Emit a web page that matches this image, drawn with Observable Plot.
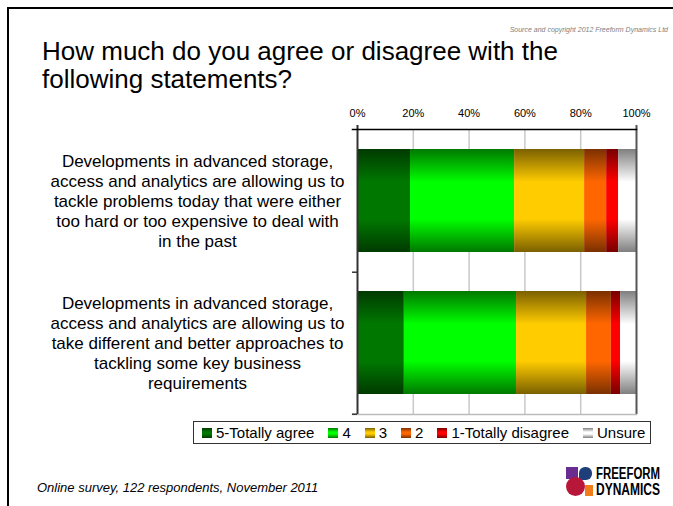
<!DOCTYPE html>
<html>
<head>
<meta charset="utf-8">
<script src="https://cdn.jsdelivr.net/npm/d3@7"></script>
<script src="https://cdn.jsdelivr.net/npm/@observablehq/plot@0.6"></script>
<style>
  html, body { margin: 0; padding: 0; background: #fff; }
  #slide { position: relative; width: 673px; height: 506px; overflow: hidden; font-family: "Liberation Sans", Arial, sans-serif; color: #000; }
  #slide .border { position: absolute; left: 7px; top: 7px; right: -5px; bottom: -5px; border-top: 2px solid #000; border-left: 2px solid #000; }
  #source { position: absolute; right: 5px; top: 26px; font-size: 7px; font-style: italic; color: #808080; }
  #title { position: absolute; left: 42px; top: 37px; font-size: 26px; line-height: 28px; }
  #chart { position: absolute; left: 0; top: 0; }
  #legend { position: absolute; left: 193px; top: 421px; width: 456px; height: 21px; border: 1px solid #333; display: flex; align-items: center; font-size: 15px; white-space: nowrap; padding-left: 8px; box-sizing: content-box; }
  #legend .item { display: flex; align-items: center; flex-shrink: 0; margin-right: 14px; }
  #legend .sw { width: 10px; height: 10px; margin-right: 4px; flex-shrink: 0; }
  #footer { position: absolute; left: 37px; top: 480px; font-size: 13px; font-style: italic; }
  #logo { position: absolute; left: 566px; top: 466px; width: 100px; height: 31px; }
  #logo .t { position: absolute; left: 30px; font-weight: bold; font-size: 16px; line-height: 15px; height: 15px; transform-origin: 0 0; white-space: nowrap; }
</style>
</head>
<body>
<div id="slide">
  <div class="border"></div>
  <div id="source">Source and copyright 2012 Freeform Dynamics Ltd</div>
  <div id="title">How much do you agree or disagree with the<br>following statements?</div>
  <div id="chart"></div>
  <div id="legend"></div>
  <div id="footer">Online survey, 122 respondents, November 2011</div>
  <div id="logo">
    <div style="position:absolute;left:0;top:1px;width:12px;height:12px;background:#6a2c8e"></div>
    <div style="position:absolute;left:13px;top:1px;width:13px;height:13px;background:#1f3f7a;border-radius:6px 6px 6px 0"></div>
    <div style="position:absolute;left:19px;top:19px;width:8px;height:11px;background:#f07c1a"></div>
    <div style="position:absolute;left:0;top:11px;width:19px;height:19px;background:#b8173a;border-radius:50%"></div>
    <div class="t" style="top:0px">FREEFORM</div>
    <div class="t" style="top:16px">DYNAMICS</div>
  </div>
</div>
<script>
// ---- data ----
const statements = [
  "Developments in advanced storage, access and analytics are allowing us to tackle problems today that were either too hard or too expensive to deal with in the past",
  "Developments in advanced storage, access and analytics are allowing us to take different and better approaches to tackling some key business requirements"
];
const statementLines = [
  ["Developments in advanced storage,", "access and analytics are allowing us to", "tackle problems today that were either", "too hard or too expensive to deal with", "in the past"],
  ["Developments in advanced storage,", "access and analytics are allowing us to", "take different and better approaches to", "tackling some key business", "requirements"]
];
const ratings = ["5-Totally agree", "4", "3", "2", "1-Totally disagree", "Unsure"];
const valuesStatement1 = [19.0, 37.3, 25.1, 7.9, 4.3, 6.4];
const valuesStatement2 = [16.8, 40.2, 25.1, 8.9, 3.3, 5.7];
const xTicks = [0, 20, 40, 60, 80, 100];

// ---- palette (gradient dark edge / bright middle) ----
const darkColors = ["#003a00", "#007800", "#7a6000", "#7a3000", "#780000", "#7f7f7f"];
const brightColors = ["#007800", "#00ff00", "#ffcc00", "#ff6600", "#ff0000", "#ffffff"];

const data = [];
[valuesStatement1, valuesStatement2].forEach((vals, si) => {
  vals.forEach((v, ri) => data.push({statement: statements[si], rating: ratings[ri], value: v}));
});

const W = 673, H = 506;
const mTop = 129, mBottom = 92, mLeft = 357, mRight = 37;
const padInner = 0.277, padOuter = 0.139;
const stepY = (H - mTop - mBottom) / (statements.length - padInner + 2 * padOuter);

const plot = Plot.plot({
  width: W, height: H,
  marginTop: mTop, marginBottom: mBottom, marginLeft: mLeft, marginRight: mRight,
  style: {fontFamily: "'Liberation Sans', Arial, sans-serif", background: "transparent", color: "#000"},
  x: {domain: [0, 100], axis: null, label: null},
  y: {domain: statements, paddingInner: padInner, paddingOuter: padOuter, axis: null, label: null},
  color: {type: "ordinal", domain: ratings, range: ratings.map((r, i) => `url(#grad${i})`)},
  marks: [
    Plot.gridX({ticks: [20, 40, 60, 80], stroke: "#c8c8c8", strokeOpacity: 1, strokeWidth: 1.5}),
    Plot.barX(data, Plot.stackX({x: "value", y: "statement", fill: "rating", order: ratings})),
    Plot.ruleX([100], {stroke: "#555", strokeWidth: 2, insetTop: -4}),
    Plot.frame({anchor: "bottom", stroke: "#bbb", strokeWidth: 1.5, insetLeft: -5}),
    Plot.ruleX([0], {stroke: "#333", strokeWidth: 2, insetTop: -4}),
    Plot.frame({anchor: "top", stroke: "#000", strokeWidth: 1.5, insetLeft: -5}),
    Plot.ruleY(statements, {y: d => d, dy: stepY / 2, x1: 0, x2: 0, insetLeft: -5, stroke: "#333", strokeWidth: 1.5}),
    Plot.axisX({anchor: "top", ticks: xTicks, tickFormat: d => d + "%", tickSize: 0, tickPadding: 13, fontSize: 11, label: null}),
    Plot.text(statements, {y: d => d, text: (d, i) => statementLines[i].join("\n"), frameAnchor: "left", dx: -160, textAnchor: "middle", lineHeight: 20 / 17, fontSize: 17, fill: "#000"})
  ]
});

const defs = d3.select(plot).insert("defs", ":first-child");
ratings.forEach((r, i) => {
  const g = defs.append("linearGradient").attr("id", `grad${i}`).attr("x1", 0).attr("y1", 0).attr("x2", 0).attr("y2", 1);
  g.append("stop").attr("offset", "0%").attr("stop-color", darkColors[i]);
  g.append("stop").attr("offset", "32%").attr("stop-color", brightColors[i]);
  g.append("stop").attr("offset", "68%").attr("stop-color", brightColors[i]);
  g.append("stop").attr("offset", "100%").attr("stop-color", darkColors[i]);
});
document.getElementById("chart").appendChild(plot);

// legend
const legend = d3.select("#legend");
ratings.forEach((r, i) => {
  const item = legend.append("div").attr("class", "item");
  item.append("div").attr("class", "sw")
    .style("background", `linear-gradient(to bottom, ${darkColors[i]}, ${brightColors[i]} 40%, ${brightColors[i]} 60%, ${darkColors[i]})`);
  item.append("span").text(r);
});
d3.select("#legend").style("width", (456 - 8) + "px");

// condense logo words to fit
document.querySelectorAll("#logo .t").forEach(el => {
  const w = el.getBoundingClientRect().width;
  el.style.transform = `scaleX(${64 / w})`;
});
</script>
</body>
</html>
